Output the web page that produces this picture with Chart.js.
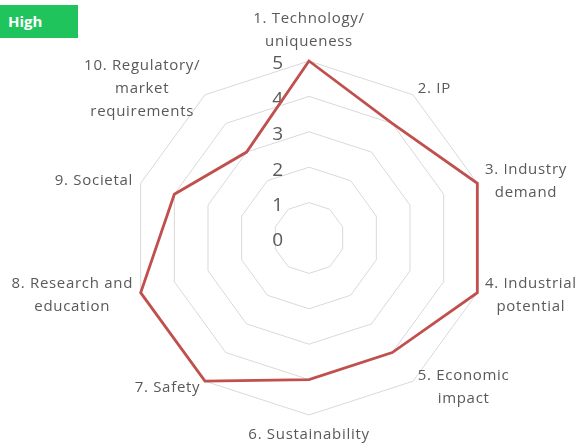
<!DOCTYPE html>
<html>
<head>
<meta charset="utf-8">
<script src="https://cdn.jsdelivr.net/npm/chart.js@4/dist/chart.umd.min.js"></script>
<style>
  html, body { margin: 0; padding: 0; background: #fff; }
  #wrap { position: relative; width: 578px; height: 448px; }
  #badge {
    position: absolute; left: 0; top: 5px; width: 78px; height: 33px;
    background: #1fc55c; color: #fff; font: bold 15px "Open Sans", sans-serif;
    line-height: 33px; padding-left: 8px; box-sizing: border-box;
  }
</style>
</head>
<body>
<div id="wrap">
  <canvas id="radarChart"></canvas>
  <div id="badge">High</div>
</div>
<script>
const criteria = [
  ['1. Technology/', 'uniqueness'],
  ['2. IP'],
  ['3. Industry', 'demand'],
  ['4. Industrial', 'potential'],
  ['5. Economic', 'impact'],
  ['6. Sustainability'],
  ['7. Safety'],
  ['8. Research and', 'education'],
  ['9. Societal'],
  ['10. Regulatory/', 'market', 'requirements']
];
const scores = [5, 4, 5, 5, 4, 4, 5, 5, 4, 3];
const tickValues = [0, 1, 2, 3, 4, 5];

// Excel style: numbers right-aligned left of the vertical axis, 0 included
const tickNumbers = {
  id: 'tickNumbers',
  beforeDatasetsDraw(chart) {
    const scale = chart.scales.r;
    const c = chart.ctx;
    c.save();
    c.font = '19px "Open Sans", sans-serif';
    c.fillStyle = '#595959';
    c.textAlign = 'right';
    c.textBaseline = 'middle';
    tickValues.forEach(v => {
      const p = scale.getPointPositionForValue(0, v);
      c.fillText(String(v), p.x - 26, p.y + 3);
    });
    c.restore();
  }
};

// category labels: centred blocks, vertically centred on the anchor except top/bottom
const axisLabels = {
  id: 'axisLabels',
  afterDraw(chart) {
    const scale = chart.scales.r;
    const c = chart.ctx;
    const lh = 23;
    c.save();
    c.font = '15px "Open Sans", sans-serif';
    c.letterSpacing = '0.7px';
    c.fillStyle = '#595959';
    c.textAlign = 'center';
    c.textBaseline = 'middle';
    criteria.forEach((lines, i) => {
      const p = scale.getPointPosition(i, scale.drawingArea + 8);
      const w = Math.max(...lines.map(s => c.measureText(s).width));
      const h = lines.length * lh;
      const dx = p.x - scale.xCenter;
      let cx = p.x;
      if (dx > 1) cx = p.x + w / 2;
      else if (dx < -1) cx = p.x - w / 2;
      let top = p.y - h / 2;
      if (i === 0) top = p.y - h;
      else if (i === criteria.length / 2) top = p.y;
      lines.forEach((s, k) => c.fillText(s, cx, top + lh * k + lh / 2));
    });
    c.restore();
  }
};

let ctx = document.getElementById('radarChart');
let myChart = new Chart(ctx, {
  type: 'radar',
  data: {
    labels: criteria.map(l => l.join(' ')),
    datasets: [{
      data: scores,
      borderColor: '#c0504d',
      borderWidth: 2.8,
      backgroundColor: 'transparent',
      fill: false,
      pointRadius: 0,
      pointHoverRadius: 0,
      tension: 0
    }]
  },
  options: {
    responsive: true,
    maintainAspectRatio: false,
    animation: false,
    layout: { padding: { top: 61, bottom: 33, left: 40, right: 0 } },
    plugins: { legend: { display: false }, tooltip: { enabled: false } },
    scales: {
      r: {
        min: 0,
        max: 5,
        ticks: { stepSize: 1, display: false },
        angleLines: { display: false },
        grid: { color: '#d9d9d9', lineWidth: 1 },
        pointLabels: { display: false }
      }
    }
  },
  plugins: [tickNumbers, axisLabels]
});
</script>
</body>
</html>
